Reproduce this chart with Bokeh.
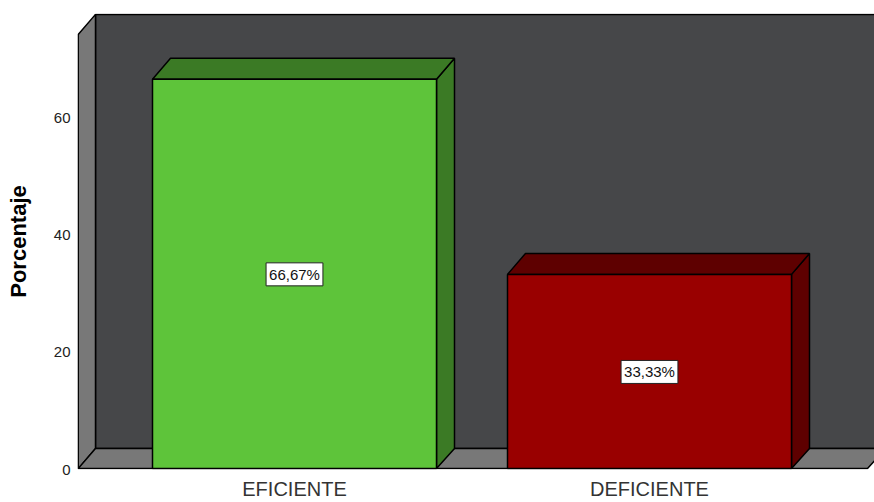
from bokeh.plotting import figure
from bokeh.models import Range1d, Label, FixedTicker
from bokeh.embed import file_html
from bokeh.resources import INLINE

# ---- data ----
categories = ["EFICIENTE", "DEFICIENTE"]
percentages = [66.67, 33.33]
value_labels = ["66,67%", "33,33%"]
front_colors = ["#5ec43a", "#990000"]
shade_colors = ["#3b7a25", "#5e0000"]
y_ticks = [0, 20, 40, 60]
y_title = "Porcentaje"

# ---- geometry ----
W, H = 874, 502
ML, MB, MT = 77, 32, 13
fw = W - ML
fh = H - MB - MT
px_per_y = 5.867
px_per_x = 355.0
ymax = fh / px_per_y
x_pos = [1, 2]
x_start = 1 - (294 - 77) / px_per_x
x_end = x_start + fw / px_per_x
x_floor_end = 2 + (867 - 649) / px_per_x
DX = 18 / px_per_x
DY = 21 / px_per_y
BW = 0.8
FONT = "Liberation Sans"

p = figure(width=W, height=H, output_backend="svg", toolbar_location=None,
           x_range=Range1d(x_start, x_end), y_range=Range1d(0, ymax),
           min_border_left=ML, min_border_bottom=MB, min_border_top=MT,
           min_border_right=0)
p.outline_line_color = None
p.grid.visible = False
p.background_fill_color = "white"
p.border_fill_color = "white"

# back wall
p.quad(left=[x_start + DX], right=[x_floor_end + DX], bottom=[DY], top=[ymax - 0.15],
       fill_color="#464749", line_color="black", line_width=1.5)
# left wall
p.patch([x_start + 0.002, x_start + DX, x_start + DX, x_start + 0.002],
        [0.15, DY, ymax - 0.15, ymax - DY],
        fill_color="#787878", line_color="black", line_width=1.5)
# floor
p.patch([x_start + 0.002, x_floor_end, x_floor_end + DX, x_start + DX],
        [0.15, 0.15, DY, DY],
        fill_color="#787878", line_color="black", line_width=1.5)

# bars
for c, v, fc, sc, lab in zip(x_pos, percentages, front_colors, shade_colors, value_labels):
    l, r = c - BW / 2, c + BW / 2
    p.patch([r, r + DX, r + DX, r], [0.15, DY, v + DY, v],
            fill_color=sc, line_color="black", line_width=1.5)
    p.patch([l, r, r + DX, l + DX], [v, v, v + DY, v + DY],
            fill_color=sc, line_color="black", line_width=1.5)
    p.quad(left=[l], right=[r], bottom=[0.15], top=[v],
           fill_color=fc, line_color="black", line_width=1.5)
    p.add_layout(Label(x=c, y=v / 2, text=lab, text_align="center",
                       text_baseline="middle", text_font=FONT,
                       text_font_size="15px", text_color="#111111",
                       background_fill_color="white",
                       border_line_color="#222222", border_line_width=1,
                       padding=3))

# axes
for ax in (p.xaxis, p.yaxis):
    ax.axis_line_color = None
    ax.major_tick_line_color = None
    ax.minor_tick_line_color = None
    ax.major_tick_out = 0
    ax.major_tick_in = 0
    ax.minor_tick_out = 0
    ax.minor_tick_in = 0
    ax.major_label_text_font = FONT

p.xaxis.ticker = FixedTicker(ticks=x_pos)
p.xaxis.major_label_overrides = {x: n for x, n in zip(x_pos, categories)}
p.xaxis.major_label_text_font_size = "20px"
p.xaxis.major_label_text_color = "#333333"
p.xaxis.major_label_standoff = 8

p.yaxis.ticker = FixedTicker(ticks=y_ticks)
p.yaxis.major_label_text_font_size = "15px"
p.yaxis.major_label_text_color = "#222222"
p.yaxis.major_label_standoff = 7
p.yaxis.axis_label = y_title
p.yaxis.axis_label_text_font = FONT
p.yaxis.axis_label_text_font_size = "22px"
p.yaxis.axis_label_text_font_style = "bold"
p.yaxis.axis_label_text_color = "black"
p.yaxis.axis_label_standoff = 20

open("out.html", "w").write(file_html(p, INLINE))
